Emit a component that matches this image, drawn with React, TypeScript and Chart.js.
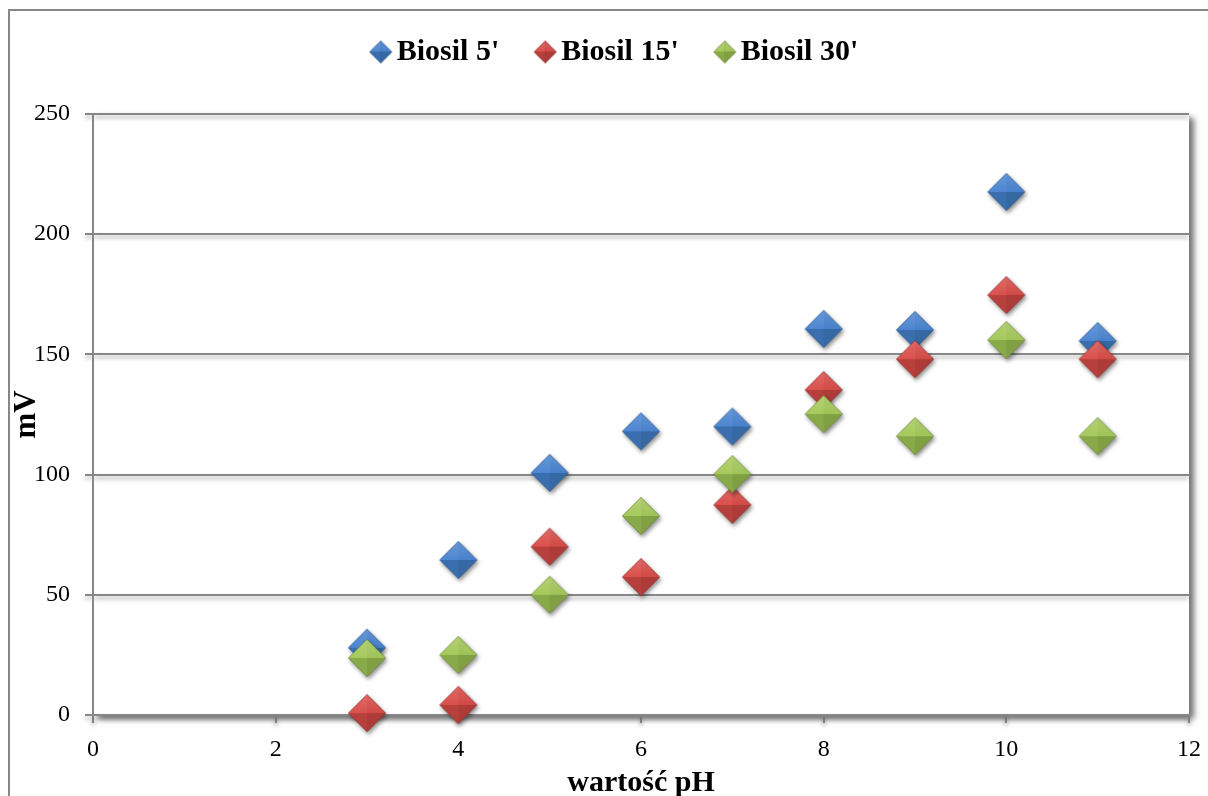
import { useEffect, useRef } from 'react';
import { Chart, registerables } from 'chart.js';

Chart.register(...registerables);

// ---- data ----
const phValues = [3, 4, 5, 6, 7, 8, 9, 10, 11];
const biosil5 = [28, 64.5, 100.7, 118, 120, 160.6, 160.2, 217.6, 155.6];
const biosil15 = [0.8, 4.2, 70, 57.4, 87.4, 135.2, 148, 174.7, 148];
const biosil30 = [23.7, 25, 50, 82.8, 100.2, 125.2, 116, 156, 116];
const seriesNames = ["Biosil 5'", "Biosil 15'", "Biosil 30'"];
const xTitle = 'wartość pH';
const yTitle = 'mV';

const FONT = "'Liberation Serif', 'Times New Roman', serif";

// facet colours: [top-left, top-right, bottom-left, bottom-right, edge]
const palettes: string[][] = [
  ['#4E87D1', '#4881CB', '#3B6EAF', '#3668A3', '#2E5A8E'],
  ['#DA514D', '#D24A46', '#B8403C', '#AD3B38', '#8F302D'],
  ['#A7C95D', '#A0C358', '#89AA48', '#81A043', '#6B8636'],
];
const baseColors = ['#4F81BD', '#C0504D', '#9BBB59'];

function makeDiamond(r: number, pal: string[], shadow: boolean): HTMLCanvasElement {
  const m = 6;
  const s = Math.ceil(2 * (r + m));
  const c = document.createElement('canvas');
  c.width = s;
  c.height = s;
  const ctx = c.getContext('2d')!;
  const cx = s / 2;
  const cy = s / 2;
  ctx.save();
  if (shadow) {
    ctx.shadowColor = 'rgba(0,0,0,0.45)';
    ctx.shadowBlur = 4;
    ctx.shadowOffsetX = 1.5;
    ctx.shadowOffsetY = 2.5;
  }
  ctx.beginPath();
  ctx.moveTo(cx, cy - r);
  ctx.lineTo(cx + r, cy);
  ctx.lineTo(cx, cy + r);
  ctx.lineTo(cx - r, cy);
  ctx.closePath();
  ctx.fillStyle = pal[4];
  ctx.fill();
  ctx.restore();
  const tri = (ax: number, ay: number, bx: number, by: number, col: string) => {
    ctx.beginPath();
    ctx.moveTo(cx, cy);
    ctx.lineTo(ax, ay);
    ctx.lineTo(bx, by);
    ctx.closePath();
    ctx.fillStyle = col;
    ctx.fill();
  };
  const ri = r - 0.7;
  tri(cx - ri, cy, cx, cy - ri, pal[0]);
  tri(cx, cy - ri, cx + ri, cy, pal[1]);
  tri(cx, cy + ri, cx - ri, cy, pal[2]);
  tri(cx + ri, cy, cx, cy + ri, pal[3]);
  const g = ctx.createLinearGradient(cx, cy - r, cx, cy);
  g.addColorStop(0, 'rgba(255,255,255,0.15)');
  g.addColorStop(1, 'rgba(255,255,255,0)');
  ctx.beginPath();
  ctx.moveTo(cx, cy - ri);
  ctx.lineTo(cx + ri, cy);
  ctx.lineTo(cx - ri, cy);
  ctx.closePath();
  ctx.fillStyle = g;
  ctx.fill();
  return c;
}

const decorPlugin = {
  id: 'decor',
  beforeDraw(chart: any) {
    const { ctx, chartArea: a, width, height } = chart;
    ctx.save();
    ctx.fillStyle = '#ffffff';
    ctx.fillRect(0, 0, width, height);
    ctx.shadowColor = 'rgba(0,0,0,0.55)';
    ctx.shadowBlur = 6;
    ctx.shadowOffsetX = 5;
    ctx.shadowOffsetY = 4;
    ctx.fillRect(a.left, a.top, a.right - a.left, a.bottom - a.top);
    ctx.restore();
    for (const id of ['x', 'y']) {
      const sc: any = chart.scales[id];
      if (sc && !sc.__patched) {
        const orig = sc.drawGrid.bind(sc);
        sc.drawGrid = (area: any) => {
          const c = chart.ctx;
          c.save();
          c.shadowColor = 'rgba(0,0,0,0.35)';
          c.shadowBlur = 4;
          c.shadowOffsetX = 0;
          c.shadowOffsetY = 3;
          orig(area);
          c.restore();
        };
        sc.__patched = true;
      }
    }
  },
  afterDraw(chart: any) {
    const { ctx, width, height } = chart;
    ctx.save();
    ctx.strokeStyle = '#878787';
    ctx.lineWidth = 2;
    ctx.strokeRect(1, 2, width + 10, height + 10);
    ctx.restore();
  },
};

export default function App() {
  const ref = useRef<HTMLCanvasElement>(null);

  useEffect(() => {
    const canvas = ref.current!;
    const pointIcons = palettes.map((p) => makeDiamond(19, p, true));
    const legendIcons = palettes.map((p) => makeDiamond(11.5, p, false));
    const series = [biosil5, biosil15, biosil30];

    const chart = new Chart(canvas, {
      type: 'scatter',
      data: {
        datasets: series.map((vals, i) => ({
          label: seriesNames[i],
          data: phValues.map((x, j) => ({ x, y: vals[j] })),
          pointStyle: pointIcons[i] as any,
          pointRadius: 19,
          pointHoverRadius: 19,
          backgroundColor: baseColors[i],
          borderColor: baseColors[i],
          showLine: false,
          clip: false as any,
          order: 3 - i,
        })),
      },
      plugins: [decorPlugin],
      options: {
        responsive: false,
        animation: false,
        devicePixelRatio: 1,
        layout: { padding: { top: -18, left: 0, right: -12, bottom: 0 } },
        plugins: {
          tooltip: { enabled: false },
          subtitle: {
            display: true,
            text: '',
            weight: 500,
            font: { size: 10 },
            padding: { top: 12.5, bottom: 12.5 },
          },
          legend: {
            position: 'top',
            labels: {
              usePointStyle: true,
              pointStyleWidth: 2,
              padding: 45,
              color: '#000',
              font: { family: FONT, size: 30, weight: 'bold' },
              generateLabels: (ch: any) =>
                ch.data.datasets.map((ds: any, i: number) => ({
                  text: ds.label,
                  fillStyle: baseColors[i],
                  strokeStyle: baseColors[i],
                  lineWidth: 0,
                  pointStyle: legendIcons[i],
                  hidden: false,
                  datasetIndex: i,
                  fontColor: '#000',
                })),
            },
          },
        },
        scales: {
          x: {
            type: 'linear',
            min: 0,
            max: 12,
            ticks: {
              stepSize: 2,
              color: '#000',
              padding: 12,
              font: { family: FONT, size: 24 },
            },
            grid: {
              drawOnChartArea: false,
              drawTicks: true,
              tickLength: 8,
              color: '#878787',
              lineWidth: 2,
            },
            border: { display: true, color: '#878787', width: 2 },
            title: {
              display: true,
              text: xTitle,
              color: '#000',
              font: { family: FONT, size: 30, weight: 'bold' },
              padding: { top: 7, bottom: 7 },
            },
            afterFit: (scale: any) => {
              scale.height = 93;
              scale.paddingLeft = 0;
              scale.paddingRight = 29;
            },
          },
          y: {
            type: 'linear',
            min: 0,
            max: 250,
            ticks: {
              stepSize: 50,
              color: '#000',
              padding: 15,
              font: { family: FONT, size: 24 },
            },
            grid: {
              drawTicks: true,
              tickLength: 8,
              color: '#878787',
              lineWidth: 2,
            },
            border: { display: true, color: '#878787', width: 2 },
            title: {
              display: true,
              text: yTitle,
              color: '#000',
              font: { family: FONT, size: 31, weight: 'bold' },
              padding: { top: 0, bottom: 0 },
            },
            afterFit: (scale: any) => {
              scale.width = 85;
              scale.paddingTop = 106;
              scale.paddingBottom = 0;
            },
          },
        },
      } as any,
    });
    return () => chart.destroy();
  }, []);

  return (
    <div
      style={{
        position: 'absolute',
        left: 8,
        top: 8,
        width: 1200,
        height: 788,
        overflow: 'hidden',
        background: '#fff',
      }}
    >
      <canvas ref={ref} width={1210} height={800} style={{ display: 'block', width: 1210, height: 800 }} />
    </div>
  );
}
